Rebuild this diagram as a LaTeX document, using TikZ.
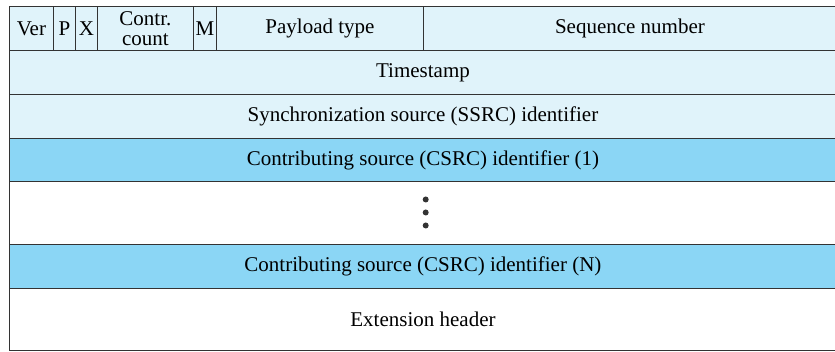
\documentclass[tikz,border=0pt]{standalone}
\usepackage{fontspec}
\setmainfont{Liberation Serif}
\definecolor{hdrlight}{HTML}{E0F3FA}
\definecolor{hdrdark}{HTML}{8BD6F5}
\definecolor{rule}{HTML}{333333}
\tikzset{
  field/.style={draw=rule,line width=0.9pt,anchor=north west,inner sep=0pt,
    minimum height=#1,font=\fontsize{21}{20}\selectfont,align=center},
  field/.default=44pt
}
\begin{document}
\begin{tikzpicture}
  [x=1pt,y=-1pt]
  \useasboundingbox (0,0) rectangle (835,352);

  % top row
  \foreach \nm/\x/\w/\txt in {ver/9/44/Ver,pad/53/22/P,ext/75/22/X,cc/97/96/{Contr.\\count},
      mark/193/23/M,pt/216/207/Payload type,seq/423/413/Sequence number}
    \node[field,fill=hdrlight,minimum width=\w pt] (\nm) at (\x,6) {\txt};

  \node[field,fill=hdrlight,minimum width=827pt] (ts) at (9,50) {Timestamp};
  \node[field,fill=hdrlight,minimum width=827pt] (ssrc) at (9,94) {Synchronization source (SSRC) identifier};
  \node[field=43pt,fill=hdrdark,minimum width=827pt] (csrc1) at (9,138) {Contributing source (CSRC) identifier (1)};
  \node[field=63pt,fill=white,minimum width=827pt] (gap) at (9,181) {};
  \node[field,fill=hdrdark,minimum width=827pt] (csrcn) at (9,244) {Contributing source (CSRC) identifier (N)};
  \node[field=62pt,fill=white,minimum width=827pt] (exthdr) at (9,288) {Extension header};

  % dots
  \foreach \y in {199.5,212.5,225.5}
    \fill[rule] (425.7,\y) circle (3pt);

\end{tikzpicture}
\end{document}
